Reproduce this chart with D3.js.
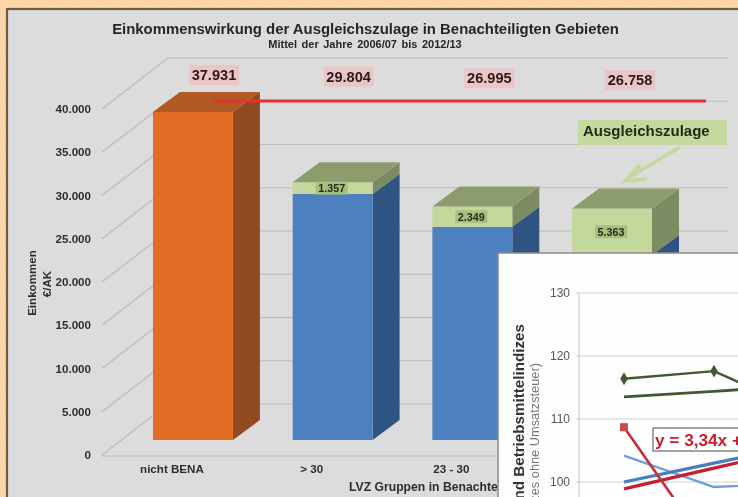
<!DOCTYPE html>
<html>
<head>
<meta charset="utf-8">
<script src="https://cdn.jsdelivr.net/npm/d3@7"></script>
<style>
  html, body { margin: 0; padding: 0; background: #fcd9ae; overflow: hidden; }
  svg { display: block; font-family: "Liberation Sans", Arial, sans-serif; filter: blur(0.45px); }
</style>
</head>
<body>
<div id="chart"></div>
<script>
// bar chart data
const categories = ["nicht BENA", "> 30", "23 - 30", "< 23"];
const einkommen = [37931, 28447, 24646, 21395];
const ausgleichszulage = [0, 1357, 2349, 5363];
const totals = [37931, 29804, 26995, 26758];
const yTicks = [0, 5000, 10000, 15000, 20000, 25000, 30000, 35000, 40000];

// inset line chart data, read at the first three x positions
const insetTicks = [100, 110, 120, 130];
const insetX = [0, 1, 2];
const preisGruen = [116.4, 117.6, 111.2];
const trendGruen = [113.5, 114.4, 115.3];
const preisRot = [108.7, 88.3, 84];
const trendRot = [98.9, 102.2, 105.5];
const preisBlau = [104.2, 99.2, 99.9];
const trendBlau = [100, 103, 106];

const width = 738;
const height = 497;
const de = d3.formatLocale({ decimal: ",", thousands: ".", grouping: [3], currency: ["", "€"] });
const fmt = de.format(",d");

const svg = d3.select("#chart").append("svg")
  .attr("width", width)
  .attr("height", height);

const defs = svg.append("defs");
const hatch = defs.append("pattern")
  .attr("id", "hatch")
  .attr("width", 3).attr("height", 3)
  .attr("patternUnits", "userSpaceOnUse");
hatch.append("rect").attr("width", 3).attr("height", 3).attr("fill", "#fcdcb4");
hatch.append("path").attr("d", "M0,3L3,0M-1,1L1,-1M2,4L4,2").attr("stroke", "#f9cb92").attr("stroke-width", 1);

svg.append("rect").attr("width", width).attr("height", height).attr("fill", "url(#hatch)");
svg.append("rect")
  .attr("x", 7).attr("y", 9)
  .attr("width", width).attr("height", height)
  .attr("fill", "#dcdcdc")
  .attr("stroke", "#6e5c3e")
  .attr("stroke-width", 2.2);

// scales: y is the front plane of the axis, bars and wall are shifted back from it
const y = d3.scaleLinear().domain([0, 40000]).range([455, 109]);
const x = d3.scaleBand().domain(categories).range([153, 652]).paddingInner(0.428);
const wallDx = 66, wallDy = -51;
const wallRight = 728;
const barShift = -15;
const depthX = 27, depthY = -20;
const axisX = 102;

// wall grid and diagonals
const grid = svg.append("g").attr("stroke", "#bcbcbc").attr("stroke-width", 1.2).attr("fill", "none");
grid.selectAll("line.h").data(yTicks).join("line").attr("class", "h")
  .attr("x1", axisX + wallDx).attr("x2", wallRight)
  .attr("y1", (d) => y(d) + wallDy).attr("y2", (d) => y(d) + wallDy);
grid.selectAll("line.d").data(yTicks).join("line").attr("class", "d")
  .attr("x1", axisX).attr("x2", axisX + wallDx)
  .attr("y1", (d) => y(d)).attr("y2", (d) => y(d) + wallDy);
grid.append("line")
  .attr("x1", axisX).attr("x2", 700)
  .attr("y1", y(0) + 1).attr("y2", y(0) + 1);

const yAxis = svg.append("g")
  .attr("transform", `translate(${axisX - 11},0)`)
  .call(d3.axisLeft(y).tickValues(yTicks).tickSize(0).tickPadding(0).tickFormat(fmt));
yAxis.select(".domain").remove();
yAxis.selectAll("text")
  .attr("fill", "#2e2e2e")
  .style("font-size", "11.6px")
  .style("font-weight", "bold")
  .style("font-family", "Liberation Sans");

// 3d box helper: front, side and optional top
function box(g, x0, w, v0, v1, colors, withTop) {
  const yTop = y(v1) + barShift;
  const yBot = y(v0) + barShift;
  g.append("path")
    .attr("d", d3.line()([[x0 + w, yTop], [x0 + w + depthX, yTop + depthY], [x0 + w + depthX, yBot + depthY], [x0 + w, yBot]]))
    .attr("fill", colors[1]);
  g.append("rect")
    .attr("x", x0).attr("y", yTop)
    .attr("width", w).attr("height", yBot - yTop)
    .attr("fill", colors[0]);
  if (withTop) {
    g.append("path")
      .attr("d", d3.line()([[x0, yTop], [x0 + depthX, yTop + depthY], [x0 + w + depthX, yTop + depthY], [x0 + w, yTop]]))
      .attr("fill", colors[2]);
  }
}

const orange = ["#e36d25", "#8f4a1f", "#b05a24"];
const blue = ["#4d80bf", "#2f5482", "#2f5482"];
const green = ["#c4d89b", "#7c8b62", "#8d9c6e"];

categories.forEach((c, i) => {
  const g = svg.append("g");
  const colors = i === 0 ? orange : blue;
  box(g, x(c), x.bandwidth(), 0, einkommen[i], colors, i === 0);
  if (ausgleichszulage[i] > 0) {
    box(g, x(c), x.bandwidth(), einkommen[i], einkommen[i] + ausgleichszulage[i], green, true);
  }
});

// labels inside the green segments
categories.forEach((c, i) => {
  if (!ausgleichszulage[i]) return;
  const cx = x(c) + x.bandwidth() / 2 - 1;
  const cy = y(einkommen[i] + ausgleichszulage[i] / 2) + barShift;
  svg.append("rect")
    .attr("x", cx - 16).attr("y", cy - 6.5)
    .attr("width", 32).attr("height", 13)
    .attr("fill", "#a9bf80");
  svg.append("text")
    .attr("x", cx).attr("y", cy + 4)
    .attr("text-anchor", "middle")
    .attr("font-size", 10.8).attr("font-weight", "bold").attr("fill", "#1f2a14")
    .text(fmt(ausgleichszulage[i]));
});

// totals above the bars
const totalOffsets = [21, 16, 17, 18];
totals.forEach((t, i) => {
  const c = categories[i];
  const cx = x(c) + x.bandwidth() / 2 + totalOffsets[i];
  const cy = 75 + i * 1.7;
  svg.append("rect")
    .attr("x", cx - 25).attr("y", cy - 10)
    .attr("width", 50).attr("height", 20)
    .attr("fill", "#ecc5c6");
  svg.append("text")
    .attr("x", cx).attr("y", cy + 5)
    .attr("text-anchor", "middle")
    .attr("font-size", 14.6).attr("font-weight", "bold").attr("fill", "#2a1a1a")
    .text(fmt(t));
});

// reference line at the level of the first bar
const refY = y(totals[0]) + barShift - 11;
svg.append("line")
  .attr("x1", 213).attr("x2", 706)
  .attr("y1", refY).attr("y2", refY)
  .attr("stroke", "#e5303a").attr("stroke-width", 3);

// Ausgleichszulage callout
svg.append("rect")
  .attr("x", 578).attr("y", 120)
  .attr("width", 149).attr("height", 25)
  .attr("fill", "#c5d89d");
svg.append("text")
  .attr("x", 583).attr("y", 136)
  .attr("font-size", 15).attr("font-weight", "bold").attr("fill", "#1d2a14")
  .text("Ausgleichszulage");
svg.append("path")
  .attr("d", "M680,147L630,177M640,165L625,181L647,179")
  .attr("fill", "none").attr("stroke", "#c5d89d").attr("stroke-width", 3.5);

// titles
svg.append("text")
  .attr("x", 365.5).attr("y", 34)
  .attr("text-anchor", "middle")
  .attr("font-size", 14.9).attr("font-weight", "bold").attr("fill", "#262626")
  .text("Einkommenswirkung der Ausgleichszulage in Benachteiligten Gebieten");
svg.append("text")
  .attr("x", 365).attr("y", 48)
  .attr("text-anchor", "middle")
  .attr("font-size", 11).attr("font-weight", "bold").attr("fill", "#262626")
  .attr("word-spacing", 1.5)
  .text("Mittel der Jahre 2006/07 bis 2012/13");

svg.selectAll("text.cat").data(categories).join("text").attr("class", "cat")
  .attr("x", (d) => x(d) + x.bandwidth() / 2 - 21)
  .attr("y", 473)
  .attr("text-anchor", "middle")
  .attr("font-size", 11.6).attr("font-weight", "bold").attr("fill", "#2e2e2e")
  .text((d) => d);

// the inset covers the rest of this title in the picture
svg.append("text")
  .attr("x", 349).attr("y", 491)
  .attr("font-size", 12.2).attr("font-weight", "bold").attr("fill", "#2e2e2e")
  .text("LVZ Gruppen in Benachtei");

svg.append("text")
  .attr("transform", "translate(36,283) rotate(-90)")
  .attr("text-anchor", "middle")
  .attr("font-size", 11.6).attr("font-weight", "bold").attr("fill", "#2e2e2e")
  .text("Einkommen");
svg.append("text")
  .attr("transform", "translate(51,284) rotate(-90)")
  .attr("text-anchor", "middle")
  .attr("font-size", 11.6).attr("font-weight", "bold").attr("fill", "#2e2e2e")
  .text("€/AK");

// inset line chart on top
const inset = svg.append("g");
inset.append("rect")
  .attr("x", 498).attr("y", 253)
  .attr("width", 300).attr("height", 300)
  .attr("fill", "#fefefe")
  .attr("stroke", "#8a8a8a").attr("stroke-width", 1.5);

const ix = d3.scaleLinear().domain([0, 2]).range([624, 804]);
const iy = d3.scaleLinear().domain([100, 130]).range([482, 293]);

inset.selectAll("line.g").data(insetTicks).join("line").attr("class", "g")
  .attr("x1", 576).attr("x2", 738)
  .attr("y1", (d) => iy(d)).attr("y2", (d) => iy(d))
  .attr("stroke", "#cfcfcf").attr("stroke-width", 1.2);
inset.append("line")
  .attr("x1", 579).attr("x2", 579)
  .attr("y1", iy(130)).attr("y2", height)
  .attr("stroke", "#cfcfcf").attr("stroke-width", 1.2);

const iAxis = inset.append("g")
  .attr("transform", "translate(576,0)")
  .call(d3.axisLeft(iy).tickValues(insetTicks).tickSize(0).tickPadding(6));
iAxis.select(".domain").remove();
iAxis.selectAll("text")
  .attr("fill", "#555")
  .style("font-size", "12px")
  .style("font-family", "Liberation Sans");

const lineGen = d3.line().x((d, i) => ix(insetX[i])).y((d) => iy(d));
const clip = defs.append("clipPath").attr("id", "insetClip");
clip.append("rect").attr("x", 498).attr("y", 253).attr("width", 240).attr("height", 244);
const lines = inset.append("g").attr("clip-path", "url(#insetClip)").attr("fill", "none");

lines.append("path").attr("d", lineGen(trendGruen)).attr("stroke", "#41592f").attr("stroke-width", 2.8);
lines.append("path").attr("d", lineGen(preisGruen)).attr("stroke", "#41592f").attr("stroke-width", 2.4);
lines.append("path").attr("d", lineGen(preisBlau)).attr("stroke", "#6d9fd6").attr("stroke-width", 2.4);
lines.append("path").attr("d", lineGen(trendBlau)).attr("stroke", "#4a7cc2").attr("stroke-width", 3.2);
lines.append("path").attr("d", lineGen(trendRot)).attr("stroke", "#c4202f").attr("stroke-width", 3.2);
lines.append("path").attr("d", lineGen(preisRot)).attr("stroke", "#c4303a").attr("stroke-width", 2.6);

// markers
lines.selectAll("path.m1").data(preisGruen).join("path").attr("class", "m1")
  .attr("d", d3.symbol(d3.symbolDiamond, 48))
  .attr("transform", (d, i) => `translate(${ix(insetX[i])},${iy(d)})`)
  .attr("fill", "#41592f");
lines.selectAll("path.m2").data(preisBlau).join("path").attr("class", "m2")
  .attr("d", d3.symbol(d3.symbolTimes, 44))
  .attr("transform", (d, i) => `translate(${ix(insetX[i])},${iy(d)})`)
  .attr("fill", "#a9cdf0");
lines.selectAll("path.m3").data(preisRot).join("path").attr("class", "m3")
  .attr("d", d3.symbol(d3.symbolSquare, 64))
  .attr("transform", (d, i) => `translate(${ix(insetX[i])},${iy(d)})`)
  .attr("fill", "#cc4a4c");

// equation box, runs off the right edge
inset.append("rect")
  .attr("x", 653).attr("y", 428)
  .attr("width", 120).attr("height", 23)
  .attr("fill", "#fff").attr("stroke", "#666").attr("stroke-width", 1.2);
inset.append("text")
  .attr("x", 655).attr("y", 446)
  .attr("font-size", 17.2).attr("font-weight", "bold").attr("fill", "#c4202f")
  .text("y = 3,34x +");

// axis titles run off the bottom edge, only the visible part is kept
inset.append("text")
  .attr("transform", "translate(524,324) rotate(-90)")
  .attr("text-anchor", "end")
  .attr("font-size", 15.2).attr("font-weight", "bold").attr("fill", "#333")
  .text("nd Betriebsmittelindizes");
inset.append("text")
  .attr("transform", "translate(539,363) rotate(-90)")
  .attr("text-anchor", "end")
  .attr("font-size", 12.8).attr("fill", "#777")
  .text("izes ohne Umsatzsteuer)");
</script>
</body>
</html>
